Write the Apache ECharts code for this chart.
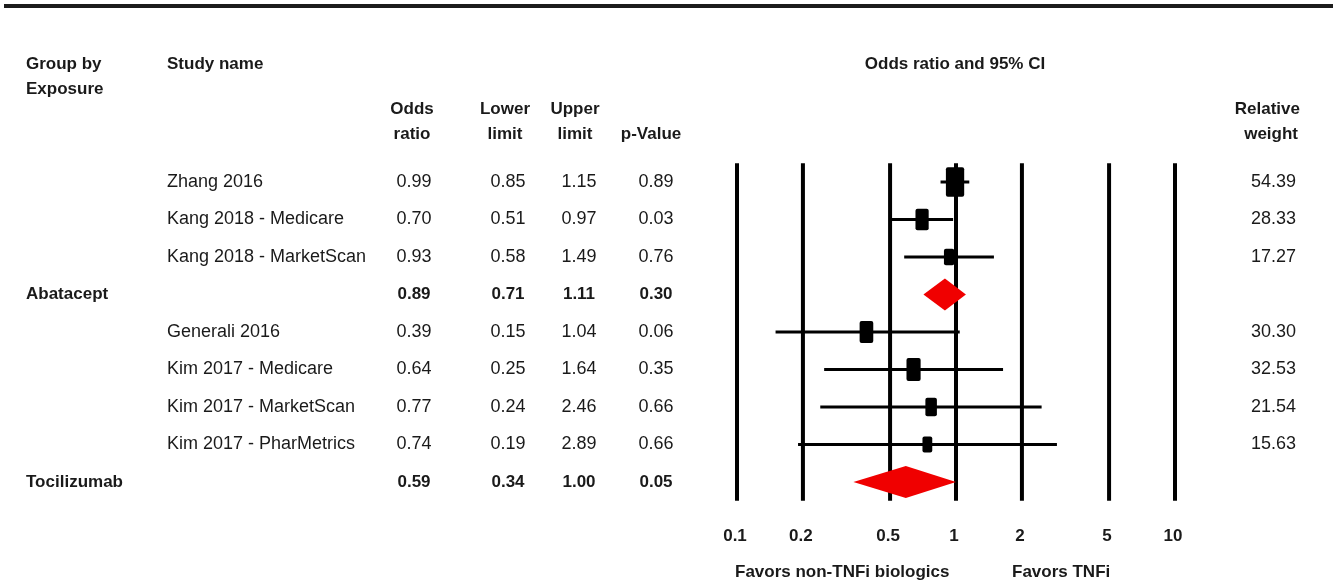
<!DOCTYPE html>
<html>
<head>
<meta charset="utf-8">
<script src="https://cdn.jsdelivr.net/npm/echarts@6/dist/echarts.min.js"></script>
<style>
html,body{margin:0;padding:0;background:#fff;}
#chart{width:1333px;height:584px;}
</style>
</head>
<body>
<div id="chart"></div>
<script>
// ---- data ----
const groupNames = ['', '', '', 'Abatacept', '', '', '', '', 'Tocilizumab'];
const studyNames = ['Zhang 2016', 'Kang 2018 - Medicare', 'Kang 2018 - MarketScan', '', 'Generali 2016', 'Kim 2017 - Medicare', 'Kim 2017 - MarketScan', 'Kim 2017 - PharMetrics', ''];
const oddsRatio = [0.99, 0.70, 0.93, 0.89, 0.39, 0.64, 0.77, 0.74, 0.59];
const lowerLimit = [0.85, 0.51, 0.58, 0.71, 0.15, 0.25, 0.24, 0.19, 0.34];
const upperLimit = [1.15, 0.97, 1.49, 1.11, 1.04, 1.64, 2.46, 2.89, 1.00];
const pValue = [0.89, 0.03, 0.76, 0.30, 0.06, 0.35, 0.66, 0.66, 0.05];
const relWeight = [54.39, 28.33, 17.27, null, 30.30, 32.53, 21.54, 15.63, null];
const isSummary = [false, false, false, true, false, false, false, false, true];
const tickValues = [0.1, 0.2, 0.5, 1, 2, 5, 10];
const tickLabels = ['0.1', '0.2', '0.5', '1', '2', '5', '10'];

// ---- layout / style ----
const FONT = "'Liberation Sans', Arial, sans-serif";
const normFont = '18px ' + FONT;
const boldFont = 'bold 17px ' + FONT;
const textColor = '#1a1a1a';

const chart = echarts.init(document.getElementById('chart'), null, {renderer: 'canvas'});

function txt(x, y, text, bold, align) {
  return {
    type: 'text',
    style: {
      x: x, y: y, text: text, font: bold ? boldFont : normFont, fill: textColor,
      align: align || 'left', verticalAlign: 'middle',
      textAlign: align || 'left', textVerticalAlign: 'middle'
    },
    silent: true
  };
}

const rows = oddsRatio.map((v, i) => [lowerLimit[i], upperLimit[i], v, i, relWeight[i] == null ? 0 : relWeight[i], isSummary[i] ? 1 : 0]);
const studyRows = rows.filter(r => r[5] === 0);
const summaryRows = rows.filter(r => r[5] === 1);
const tableRows = oddsRatio.map((v, i) => [1, i]);

const option = {
  animation: false,
  backgroundColor: '#ffffff',
  grid: {left: 737, width: 438, top: 163.25, height: 337.5, containLabel: false},
  xAxis: {type: 'log', logBase: 10, min: 0.1, max: 10, show: false},
  yAxis: {type: 'value', min: -0.5, max: 8.5, inverse: true, show: false},
  graphic: [
    {type: 'rect', shape: {x: 4, y: 4, width: 1329, height: 4}, style: {fill: '#1c1c1c'}, silent: true},
    txt(26, 64, 'Group by', true),
    txt(26, 89, 'Exposure', true),
    txt(167, 64, 'Study name', true),
    txt(412, 109, 'Odds', true, 'center'),
    txt(412, 134, 'ratio', true, 'center'),
    txt(505, 109, 'Lower', true, 'center'),
    txt(505, 134, 'limit', true, 'center'),
    txt(575, 109, 'Upper', true, 'center'),
    txt(575, 134, 'limit', true, 'center'),
    txt(651, 134, 'p-Value', true, 'center'),
    txt(955, 64, 'Odds ratio and 95% CI', true, 'center'),
    txt(1300, 109, 'Relative', true, 'right'),
    txt(1298, 134, 'weight', true, 'right'),
    txt(735, 572, 'Favors non-TNFi biologics', true, 'left'),
    txt(1012, 572, 'Favors TNFi', true, 'left')
  ],
  series: [
    {
      name: 'gridlines',
      type: 'custom',
      coordinateSystem: 'cartesian2d',
      clip: false,
      silent: true,
      data: tickValues.map((v, i) => [v, i]),
      renderItem: function (params, api) {
        const v = api.value(0);
        const idx = api.value(1);
        const p1 = api.coord([v, -0.5]);
        const p2 = api.coord([v, 8.5]);
        return {
          type: 'group',
          children: [
            {type: 'line', shape: {x1: p1[0], y1: p1[1], x2: p2[0], y2: p2[1]}, style: {stroke: '#000', lineWidth: 4}},
            txt(p2[0] - 2, p2[1] + 36, tickLabels[idx], true, 'center')
          ]
        };
      }
    },
    {
      name: 'studies',
      type: 'custom',
      coordinateSystem: 'cartesian2d',
      clip: false,
      silent: true,
      data: studyRows,
      renderItem: function (params, api) {
        const lo = api.coord([api.value(0), api.value(3)]);
        const hi = api.coord([api.value(1), api.value(3)]);
        const c = api.coord([api.value(2), api.value(3)]);
        const w = api.value(4);
        const h = 4 * Math.sqrt(w);
        const bw = 0.62 * h;
        return {
          type: 'group',
          children: [
            {type: 'line', shape: {x1: lo[0], y1: lo[1], x2: hi[0], y2: hi[1]}, style: {stroke: '#000', lineWidth: 3}},
            {type: 'rect', shape: {x: c[0] - bw / 2, y: c[1] - h / 2, width: bw, height: h, r: 2}, style: {fill: '#000'}}
          ]
        };
      }
    },
    {
      name: 'summary',
      type: 'custom',
      coordinateSystem: 'cartesian2d',
      clip: false,
      silent: true,
      data: summaryRows,
      renderItem: function (params, api) {
        const lo = api.coord([api.value(0), api.value(3)]);
        const hi = api.coord([api.value(1), api.value(3)]);
        const c = api.coord([api.value(2), api.value(3)]);
        const hh = 16;
        return {
          type: 'polygon',
          shape: {points: [[lo[0], lo[1]], [c[0], c[1] - hh], [hi[0], hi[1]], [c[0], c[1] + hh]]},
          style: {fill: '#f00000'}
        };
      }
    },
    {
      name: 'table',
      type: 'custom',
      coordinateSystem: 'cartesian2d',
      clip: false,
      silent: true,
      data: tableRows,
      renderItem: function (params, api) {
        const i = api.value(1);
        const y = api.coord([1, i])[1];
        const b = isSummary[i];
        const kids = [];
        if (groupNames[i]) kids.push(txt(26, y, groupNames[i], true));
        if (studyNames[i]) kids.push(txt(167, y, studyNames[i], false));
        kids.push(txt(414, y, oddsRatio[i].toFixed(2), b, 'center'));
        kids.push(txt(508, y, lowerLimit[i].toFixed(2), b, 'center'));
        kids.push(txt(579, y, upperLimit[i].toFixed(2), b, 'center'));
        kids.push(txt(656, y, pValue[i].toFixed(2), b, 'center'));
        if (relWeight[i] != null) kids.push(txt(1296, y, relWeight[i].toFixed(2), false, 'right'));
        return {type: 'group', children: kids};
      }
    }
  ]
};
chart.setOption(option);
</script>
</body>
</html>
